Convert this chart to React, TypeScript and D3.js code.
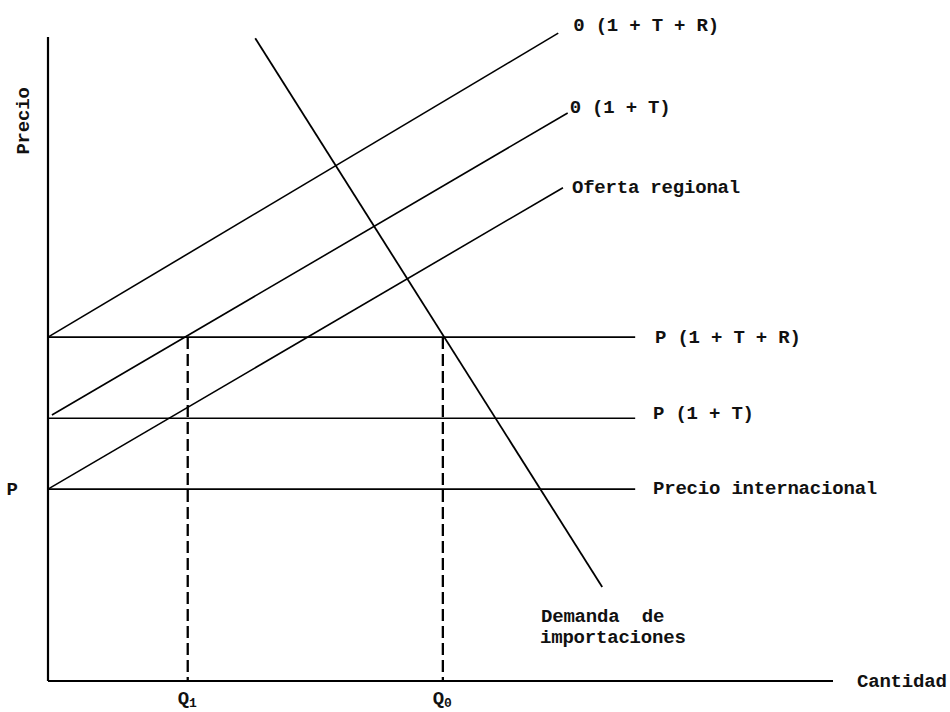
import React from "react";
import * as d3 from "d3";

// ---- data (chart units: quantity 0..100, price 0..100) ----
const supplyNames = ["0 (1 + T + R)", "0 (1 + T)", "Oferta regional"];
const supplyStartQ = [0, 0.5, 0];
const supplyStartP = [53.4, 41.3, 29.8];
const supplyEndQ = [65.0, 66.2, 65.6];
const supplyEndP = [100.6, 88.2, 76.6];

const priceLabels = ["P (1 + T + R)", "P (1 + T)", "Precio internacional"];
const priceLevels = [53.4, 40.8, 29.8];
const priceLineEndQ = 74.8;

const demandQ = [26.4, 70.6];
const demandP = [99.8, 14.6];
const demandLabel = ["Demanda  de", "importaciones"];

const quantityNames = ["Q", "Q"];
const quantitySubs = ["1", "0"];
const quantityValues = [17.8, 50.3];

const axisTitleY = "Precio";
const axisTitleX = "Cantidad";
const priceTickLabel = "P";

const W = 950;
const H = 712;
const FONT = "'Liberation Mono', 'DejaVu Sans Mono', monospace";

export default function App() {
  const x = d3.scaleLinear().domain([0, 100]).range([48, 833]);
  const y = d3.scaleLinear().domain([0, 100]).range([681, 37]);
  const line = d3
    .line<[number, number]>()
    .x((d) => x(d[0]))
    .y((d) => y(d[1]));

  const textStyle: React.CSSProperties = {
    fontFamily: FONT,
    fontSize: 19,
    fontWeight: 700,
    letterSpacing: -0.2,
    fill: "#111",
  };

  // label offsets relative to the supply line end points
  const supplyLabelDx = [15, 2, 9];
  const supplyLabelDy = [-2, 0, 5];

  return (
    <svg
      width={W}
      height={H}
      style={{ position: "absolute", left: 0, top: 0, background: "#fff" }}
    >
      <rect x={0} y={0} width={W} height={H} fill="#fff" />
      {/* axes */}
      <line x1={x(0)} y1={y(100)} x2={x(0)} y2={y(0)} stroke="#000" strokeWidth={2.2} />
      <line x1={x(0)} y1={y(0)} x2={x(100)} y2={y(0)} stroke="#000" strokeWidth={2.2} />

      {/* horizontal price lines */}
      {priceLevels.map((p, i) => (
        <path
          key={"pl" + i}
          d={line([[0, p], [priceLineEndQ, p]]) || ""}
          stroke="#000"
          strokeWidth={1.6}
          fill="none"
        />
      ))}

      {/* supply lines */}
      {supplyNames.map((n, i) => (
        <path
          key={"s" + i}
          d={line([[supplyStartQ[i], supplyStartP[i]], [supplyEndQ[i], supplyEndP[i]]]) || ""}
          stroke="#000"
          strokeWidth={1.6}
          fill="none"
        />
      ))}

      {/* demand */}
      <path
        d={line([[demandQ[0], demandP[0]], [demandQ[1], demandP[1]]]) || ""}
        stroke="#000"
        strokeWidth={1.8}
        fill="none"
      />

      {/* dashed quantity lines */}
      {quantityValues.map((q, i) => (
        <path
          key={"q" + i}
          d={line([[q, priceLevels[0]], [q, 0]]) || ""}
          stroke="#000"
          strokeWidth={2.3}
          strokeDasharray="12 5"
          fill="none"
        />
      ))}

      {/* supply labels */}
      {supplyNames.map((n, i) => (
        <text
          key={"sl" + i}
          x={x(supplyEndQ[i]) + supplyLabelDx[i]}
          y={y(supplyEndP[i]) + supplyLabelDy[i]}
          style={textStyle}
          xmlSpace="preserve"
        >
          {n}
        </text>
      ))}

      {/* price labels */}
      <text x={655} y={y(priceLevels[0]) + 6} style={textStyle}>{priceLabels[0]}</text>
      <text x={653} y={y(priceLevels[1]) + 1} style={textStyle}>{priceLabels[1]}</text>
      <text x={653} y={y(priceLevels[2]) + 5} style={textStyle}>{priceLabels[2]}</text>

      {/* demand label */}
      <text x={541} y={622} style={{ ...textStyle, whiteSpace: "pre" }} xmlSpace="preserve">
        {demandLabel[0]}
      </text>
      <text x={540} y={643} style={textStyle}>{demandLabel[1]}</text>

      {/* axis titles */}
      <text
        transform={`translate(29, 121) rotate(-90)`}
        textAnchor="middle"
        style={textStyle}
      >
        {axisTitleY}
      </text>
      <text x={857} y={687} style={textStyle}>{axisTitleX}</text>
      <text x={12} y={495} textAnchor="middle" style={textStyle}>{priceTickLabel}</text>

      {/* quantity labels */}
      {quantityValues.map((q, i) => (
        <text key={"ql" + i} x={x(q) - 10} y={704} style={textStyle}>
          {quantityNames[i]}
          <tspan fontSize={13} dy={3}>{quantitySubs[i]}</tspan>
        </text>
      ))}
    </svg>
  );
}
